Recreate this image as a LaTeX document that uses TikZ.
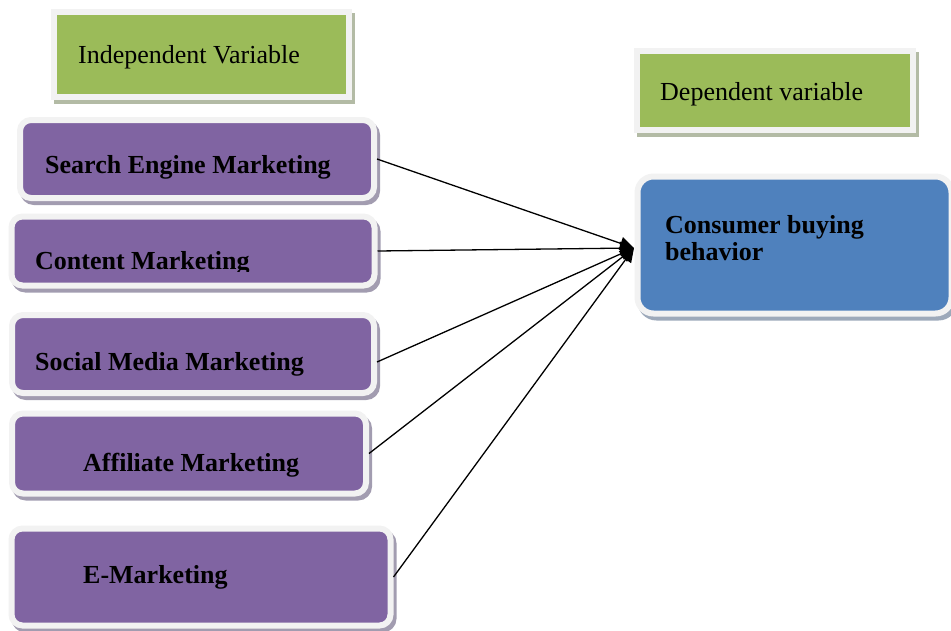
\documentclass[tikz,border=0pt]{standalone}
\usepackage{fontspec}
\setmainfont{Liberation Serif}
\usetikzlibrary{arrows.meta,calc}

\definecolor{boxpurple}{HTML}{8064A2}
\definecolor{boxgreen}{HTML}{9BBB59}
\definecolor{boxblue}{HTML}{4F81BD}
\definecolor{framegray}{HTML}{F2F2F2}
\definecolor{shadepurple}{HTML}{A29CB0}
\definecolor{shadegreen}{HTML}{B3BBA5}
\definecolor{shadeblue}{HTML}{9DA9BA}

\tikzset{
  % light frame around each box, with a soft offset shadow behind it
  framed/.style={draw=framegray, line width=6pt, inner sep=0pt,
    preaction={draw=#1, fill=#1, line width=6pt,
      transform canvas={xshift=3pt,yshift=-4pt}}},
  varbox/.style={framed=shadegreen, fill=boxgreen},
  factorbox/.style={framed=shadepurple, fill=boxpurple, rounded corners=11pt},
  outcomebox/.style={framed=shadeblue, fill=boxblue, rounded corners=16pt},
  plain/.style={font=\fontsize{26}{27}\selectfont, anchor=base west, inner sep=0pt},
  strong/.style={plain, font=\fontsize{26}{27}\selectfont\bfseries},
  link/.style={line width=1.3pt, -{Triangle[length=14pt,width=13pt]}},
}

\begin{document}
\begin{tikzpicture}[x=1pt,y=-1pt]
\useasboundingbox (0,0) rectangle (951,630);

% headings
\node[varbox, minimum width=295pt, minimum height=85pt] (ivbox) at (201,54) {};
\node[plain] (ivtext) at (78,63) {Independent Variable};

\node[varbox, minimum width=276pt, minimum height=79pt] (dvbox) at (775,90) {};
\node[plain] (dvtext) at (660,100) {Dependent variable};

% independent variables
\node[factorbox, minimum width=354pt, minimum height=78pt] (sem) at (197,159) {};
\node[strong] (semtext) at (45,173) {Search Engine Marketing};

\node[factorbox, minimum width=363pt, minimum height=69pt] (cm) at (193,251) {};
\begin{scope}
  \clip (30,228) rectangle (262,271);
  \node[strong] (cmtext) at (35,269) {Content Marketing};
\end{scope}

\node[factorbox, minimum width=362pt, minimum height=78pt] (smm) at (193,354) {};
\node[strong] (smmtext) at (35,370) {Social Media Marketing};

\node[factorbox, minimum width=354pt, minimum height=80pt] (am) at (189,453.5) {};
\node[strong] (amtext) at (83,471) {Affiliate Marketing};

\node[factorbox, minimum width=379pt, minimum height=97pt] (em) at (201,577) {};
\node[strong] (emtext) at (83,583) {E-Marketing};

% dependent variable
\node[outcomebox, minimum width=314pt, minimum height=137pt] (cbb) at (794.5,245) {};
\node[strong] (cbbtext1) at (665,233) {Consumer buying};
\node[strong] (cbbtext2) at (665,260) {behavior};

% all factors converge on the outcome
\coordinate (hub) at (634,248);
\draw[link] (sem.east) -- (hub);
\draw[link] (cm.east) -- (hub);
\draw[link] ($(smm.east)+(0,8)$) -- (hub);
\draw[link] (am.east) -- (hub);
\draw[link] (em.east) -- (hub);
\end{tikzpicture}
\end{document}
